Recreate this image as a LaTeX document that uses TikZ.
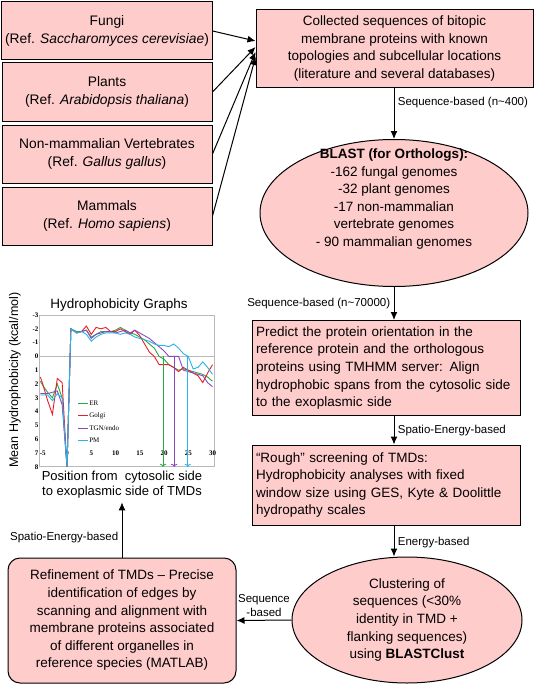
\documentclass[tikz,border=0pt]{standalone}
\usepackage{fontspec}
\setmainfont{Liberation Sans}
\newfontfamily\plotfont{Liberation Serif}
\usetikzlibrary{shapes.geometric,arrows.meta}

\definecolor{boxpink}{RGB}{255,204,204}
\definecolor{ergreen}{RGB}{40,170,70}
\definecolor{golgired}{RGB}{235,30,35}
\definecolor{tgnpurple}{RGB}{140,70,190}
\definecolor{pmblue}{RGB}{40,180,230}

\begin{document}
\begin{tikzpicture}[x=1pt, y=-1pt, >={Latex[length=8pt,width=7pt]}, line width=1pt,
  font=\fontsize{13.5}{17.6}\selectfont,
  srcbox/.style={draw, fill=boxpink, align=center, minimum width=210pt, minimum height=58pt,
    font=\fontsize{13.8}{18.5}\selectfont},
  stepbox/.style={draw, fill=boxpink, align=left, text width=260pt, inner xsep=4pt},
  oval/.style={draw, fill=boxpink, ellipse, align=center, inner sep=0pt},
  lbl/.style={font=\fontsize{11.5}{13.5}\selectfont},
  tick/.style={font=\plotfont\bfseries\fontsize{7}{7.5}\selectfont, inner sep=1pt}]

  \useasboundingbox (0,0) rectangle (535,685);

  % sources
  \node[srcbox] (fungi)   at (107,31)  {Fungi\\(Ref. \textit{Saccharomyces cerevisiae})};
  \node[srcbox] (plants)  at (107,92)  {Plants\\(Ref. \textit{Arabidopsis thaliana})};
  \node[srcbox] (vert)    at (107,154) {Non-mammalian Vertebrates\\(Ref. \textit{Gallus gallus})};
  \node[srcbox] (mammals) at (107,216) {Mammals\\(Ref. \textit{Homo sapiens})};

  \node[draw, fill=boxpink, align=center, minimum width=277pt, minimum height=77pt] (collected) at (394.5,48.5)
    {Collected sequences of bitopic\\membrane proteins with known\\topologies and subcellular locations\\(literature and several databases)};

  \draw[->] (fungi.east)   -- ([yshift=7.5pt]collected.west);
  \draw[->] (plants.east)  -- ([yshift=1.5pt]collected.west);
  \draw[->] (vert.east)    -- ([yshift=-3.5pt]collected.west);
  \draw[->] (mammals.east) -- ([yshift=-8.5pt]collected.west);

  % BLAST
  \node[oval, minimum width=268pt, minimum height=147pt] (blast) at (394,213) {};
  \node[align=center] (blasttext) at (394,199)
    {\textbf{BLAST (for Orthologs):}\\-162 fungal genomes\\-32 plant genomes\\-17 non-mammalian\\vertebrate genomes\\- 90 mammalian genomes};

  \node[stepbox, minimum height=95pt] (predict) at (386,368)
    {Predict the protein orientation in the\\reference protein and the orthologous\\proteins using TMHMM server: Align\\hydrophobic spans from the cytosolic side\\to the exoplasmic side};
  \node[stepbox, minimum height=80pt] (rough) at (386,485)
    {``Rough'' screening of TMDs:\\Hydrophobicity analyses with fixed\\window size using GES, Kyte \& Doolittle\\hydropathy scales};

  \node[oval, minimum width=230pt, minimum height=126pt] (cluster) at (407,620)
    {Clustering of\\sequences (<30\%\\identity in TMD +\\flanking sequences)\\using \textbf{BLASTClust}};
  \node[draw, fill=boxpink, rounded corners=12pt, align=center, minimum width=228pt, minimum height=125pt] (refine) at (122,620.5)
    {Refinement of TMDs -- Precise\\identification of edges by\\scanning and alignment with\\membrane proteins associated\\of different organelles in\\reference species (MATLAB)};

  \draw[->] (collected.south -| blast) -- (blast.north)
    node[lbl, right, pos=0.3] {Sequence-based (n\textasciitilde400)};
  \draw[->] (blast.south) -- (blast.south |- predict.north)
    node[lbl, left, pos=0.5] {Sequence-based (n\textasciitilde70000)};
  \draw[->] (blast.south |- predict.south) -- (blast.south |- rough.north)
    node[lbl, right, pos=0.5] {Spatio-Energy-based};
  \draw[->] (blast.south |- rough.south) -- (blast.south |- cluster.north)
    node[lbl, right, pos=0.55] {Energy-based};
  \draw[->] (cluster.west) -- (refine.east)
    node[lbl, above, midway, align=center] {Sequence\\-based};

  % hydrophobicity graph
  \node (gtitle) at (119,305) {Hydrophobicity Graphs};
  \node[rotate=90, font=\fontsize{12.5}{15}\selectfont] (ylab) at (15,380) {Mean Hydrophobicity (kcal/mol)};
  \node[align=center, font=\fontsize{13}{15}\selectfont] (xlab) at (122,485)
    {Position from \ cytosolic side\\to exoplasmic side of TMDs};

  \begin{scope}[shift={(67pt,-356.4pt)}, x=4.85pt, y={(0,-13.8pt)}, line width=0.9pt]
    \draw[gray!55] (-5.6,-3) rectangle (30.3,8);
    \draw[gray!55] (-5.6,0) -- (30.3,0);
    \foreach \v in {-3,...,8}
      \node[tick, left] at (-5.6,\v) {\v};
    \foreach \u in {-5,0,5,...,30}
      \node[tick] at (\u,7) {\u};

    \draw[ergreen] plot coordinates {(-5.5,1.8) (-5,2.1) (-4,2.6) (-3,3.0) (-2,2.0) (-1,3.0) (0,8) (0.8,-2)
      (2,-1.8) (3,-1.8) (4,-1.9) (5,-1.4) (6,-1.6) (7,-1.8) (8,-1.8) (9,-1.8) (10,-1.9) (11,-2.1) (12,-1.9)
      (13,-1.7) (14,-1.6) (15,-1.4) (16,-1.2) (17,-0.9) (18,-0.6) (19,0) (20,0.2) (21,0.6) (22,0.8) (23,1.0)
      (24,0.9) (25,1.0) (26,1.1) (27,1.2) (28,1.3) (29,1.5) (30,1.8)};
    \draw[golgired] plot coordinates {(-5.5,1.5) (-5,2.0) (-4,3.2) (-3,4.2) (-2,1.6) (-1,1.9) (0,8) (0.8,-2)
      (2,-1.7) (3,-1.8) (4,-2.2) (5,-1.6) (6,-2.1) (7,-2.0) (8,-2.1) (9,-1.8) (10,-1.8) (11,-2.0) (12,-1.8)
      (13,-1.6) (14,-1.9) (15,-1.5) (16,-0.9) (17,-0.3) (18,0.0) (19,0.6) (20,0.6) (21,0.6) (22,0.8) (23,1.1)
      (24,0.8) (25,1.0) (26,1.2) (27,1.4) (28,1.9) (29,1.2) (30,0.6)};
    \draw[tgnpurple] plot coordinates {(-5.5,2.7) (-4,2.7) (-3,2.6) (-2,2.5) (-1,3.5) (0,8) (0.8,-2)
      (2,-1.7) (3,-1.8) (4,-1.9) (5,-1.3) (6,-1.6) (7,-1.7) (8,-1.8) (9,-1.8) (10,-1.7) (11,-1.8) (12,-1.9)
      (13,-1.7) (14,-1.9) (15,-1.7) (16,-1.5) (17,-1.3) (18,-1.0) (19,-0.7) (20,-0.4) (21,0) (22,0) (23,0)
      (24,1.0) (25,1.1) (26,1.2) (27,1.3) (28,1.4) (29,1.9) (30,2.2)};
    \draw[pmblue] plot coordinates {(-5.5,2.8) (-4,2.8) (-3,3.2) (-2,2.7) (-1,3.0) (0,8) (0.8,-2)
      (2,-1.7) (3,-1.8) (4,-1.6) (5,-1.1) (6,-1.4) (7,-1.6) (8,-1.7) (9,-1.7) (10,-1.7) (11,-1.6) (12,-1.7)
      (13,-1.6) (14,-1.4) (15,-1.3) (16,-1.2) (17,-1.1) (18,-0.9) (19,-0.8) (20,-0.8) (21,-0.7) (22,-0.9)
      (23,-0.6) (24,-0.2) (25,0) (26,0.9) (27,0.8) (28,0.4) (29,0.8) (30,1.3)};

    \draw[-{To[length=3pt]}, ergreen]   (19.8,0) -- (19.8,8);
    \draw[-{To[length=3pt]}, tgnpurple] (22.1,0) -- (22.1,8);
    \draw[-{To[length=3pt]}, pmblue]    (24.9,0) -- (24.9,8);

    \foreach \c/\t [count=\i] in {ergreen/ER, golgired/Golgi, tgnpurple/{TGN/endo}, pmblue/PM}{
      \draw[\c] (2.3,2.5+0.9*\i) -- (4.3,2.5+0.9*\i);
      \node[tick, right, font=\plotfont\fontsize{7}{7.5}\selectfont] at (4.3,2.5+0.9*\i) {\t};
    }
  \end{scope}

  \draw[->] (refine.north -| xlab) -- (xlab.south)
    node[lbl, left, pos=0.36] {Spatio-Energy-based};
\end{tikzpicture}
\end{document}
